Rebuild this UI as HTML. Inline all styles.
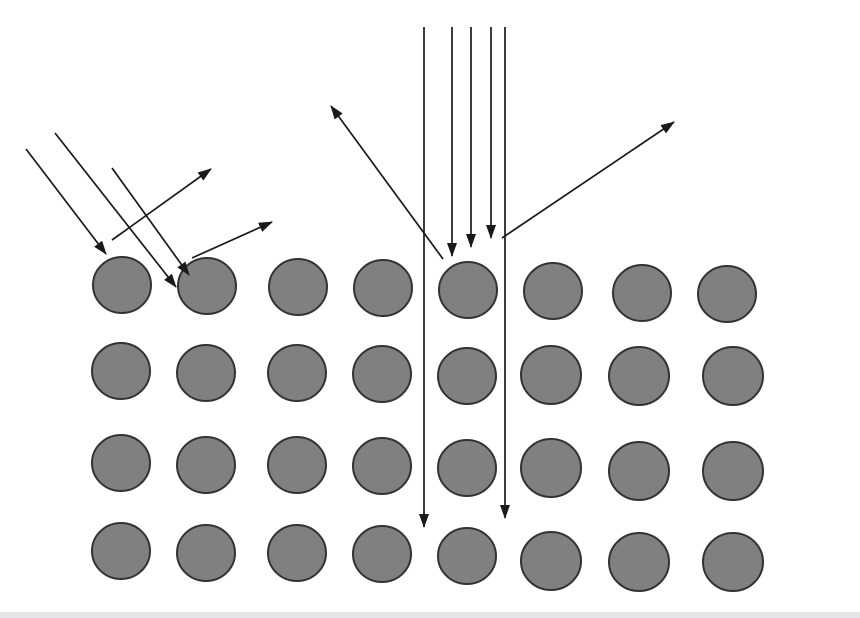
<!DOCTYPE html>
<html><head><style>html,body{margin:0;padding:0;background:#fff}svg{display:block}</style></head>
<body>
<svg width="860" height="618" viewBox="0 0 860 618" xmlns="http://www.w3.org/2000/svg">
<defs><marker id="a" markerWidth="14" markerHeight="10" refX="13" refY="5" orient="auto" markerUnits="userSpaceOnUse"><path d="M0,0 L14,5 L0,10 Z" fill="#1a1a1a"/></marker></defs>
<rect x="0" y="0" width="860" height="612" fill="#fff"/>
<rect x="0" y="612" width="860" height="6" fill="#e4e5e9"/>
<g fill="#808080" stroke="#333" stroke-width="2">
<ellipse cx="122" cy="285" rx="29" ry="28"/><ellipse cx="207" cy="286" rx="29" ry="28"/><ellipse cx="298" cy="287" rx="29" ry="28"/><ellipse cx="383" cy="288" rx="29" ry="28"/><ellipse cx="468" cy="290" rx="29" ry="28"/><ellipse cx="553" cy="291" rx="29" ry="28"/><ellipse cx="642" cy="293" rx="29" ry="28"/><ellipse cx="727" cy="294" rx="29" ry="28"/>
<ellipse cx="121" cy="371" rx="29" ry="28"/><ellipse cx="206" cy="373" rx="29" ry="28"/><ellipse cx="297" cy="373" rx="29" ry="28"/><ellipse cx="382" cy="374" rx="29" ry="28"/><ellipse cx="467" cy="376" rx="29" ry="28"/><ellipse cx="551" cy="375" rx="30" ry="29"/><ellipse cx="639" cy="376" rx="30" ry="29"/><ellipse cx="733" cy="376" rx="30" ry="29"/>
<ellipse cx="121" cy="463" rx="29" ry="28"/><ellipse cx="206" cy="465" rx="29" ry="28"/><ellipse cx="297" cy="465" rx="29" ry="28"/><ellipse cx="382" cy="466" rx="29" ry="28"/><ellipse cx="467" cy="468" rx="29" ry="28"/><ellipse cx="551" cy="468" rx="30" ry="29"/><ellipse cx="639" cy="471" rx="30" ry="29"/><ellipse cx="733" cy="471" rx="30" ry="29"/>
<ellipse cx="121" cy="551" rx="29" ry="28"/><ellipse cx="206" cy="553" rx="29" ry="28"/><ellipse cx="297" cy="553" rx="29" ry="28"/><ellipse cx="382" cy="554" rx="29" ry="28"/><ellipse cx="467" cy="556" rx="29" ry="28"/><ellipse cx="551" cy="561" rx="30" ry="29"/><ellipse cx="639" cy="562" rx="30" ry="29"/><ellipse cx="733" cy="562" rx="30" ry="29"/>
</g>
<g stroke="#1a1a1a" stroke-width="1.7" fill="none" marker-end="url(#a)">
<line x1="26" y1="149" x2="106" y2="254"/>
<line x1="55" y1="133" x2="176" y2="287"/>
<line x1="112" y1="168" x2="189" y2="275"/>
<line x1="112" y1="240" x2="211" y2="169"/>
<line x1="192" y1="258" x2="272" y2="222"/>
<line x1="424" y1="27" x2="424" y2="527"/>
<line x1="505" y1="27" x2="505" y2="518"/>
<line x1="452" y1="27" x2="452" y2="256"/>
<line x1="471" y1="27" x2="471" y2="247"/>
<line x1="491" y1="27" x2="491" y2="238"/>
<line x1="443" y1="259" x2="331" y2="106"/>
<line x1="502" y1="238" x2="674" y2="122"/>
</g>
</svg>
</body></html>
